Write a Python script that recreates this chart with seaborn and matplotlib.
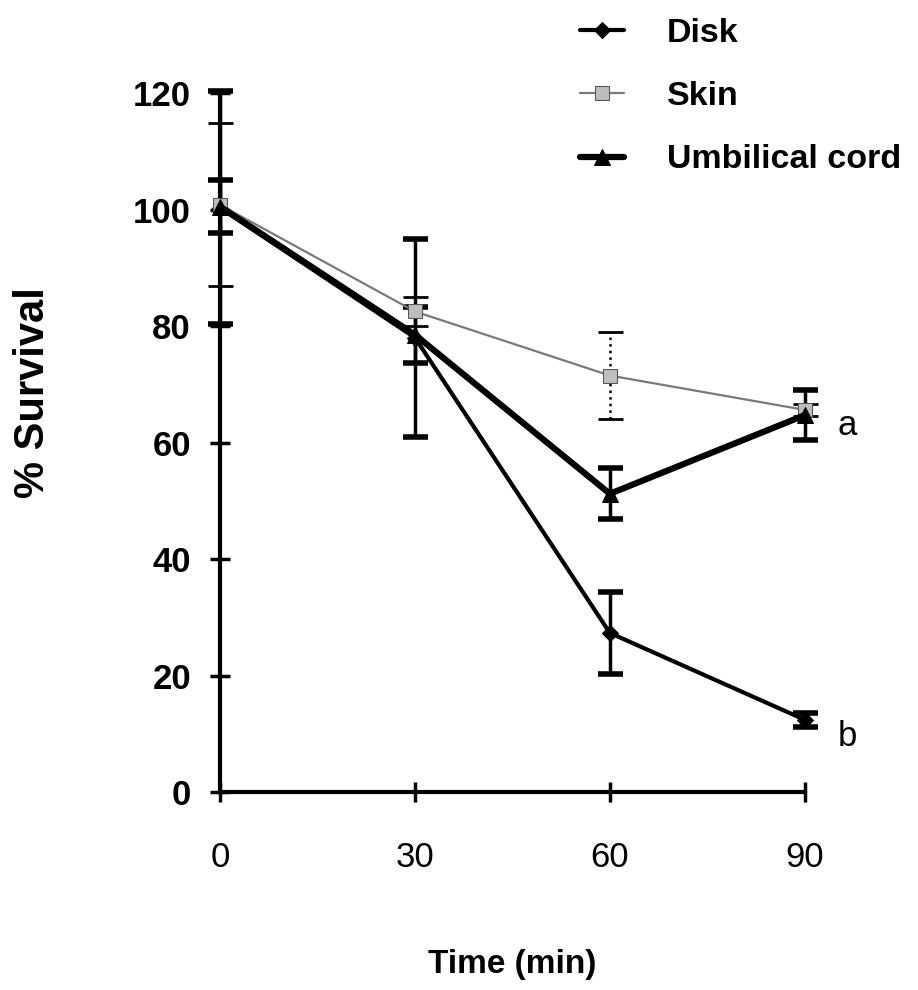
import numpy as np
import pandas as pd
import matplotlib
matplotlib.use("Agg")
import matplotlib.pyplot as plt
import seaborn as sns

# Datos
tiempo = [0, 30, 60, 90]
disk = [100.3, 78.0, 27.3, 12.4]
disk_sd = [20.0, 17.0, 7.0, 1.2]
skin = [100.8, 82.5, 71.5, 65.6]
skin_sd = [14.0, 2.5, 7.5, 1.0]
umbilical = [100.5, 78.5, 51.2, 64.7]
umbilical_sd = [4.6, 4.8, 4.4, 4.3]

series = ["Disk", "Skin", "Umbilical cord"]

df = pd.DataFrame({
    "tiempo": tiempo * 3,
    "valor": disk + skin + umbilical,
    "sd": disk_sd + skin_sd + umbilical_sd,
    "serie": np.repeat(series, len(tiempo)),
})

sns.set_style("ticks")
plt.rcParams["font.family"] = ["Liberation Sans", "DejaVu Sans"]
plt.rcParams["text.color"] = "black"
plt.rcParams["xtick.color"] = "black"
plt.rcParams["ytick.color"] = "black"
plt.rcParams["axes.labelcolor"] = "black"

fig = plt.figure(figsize=(9.18, 9.9), dpi=100)
ax = fig.add_axes([0.2397, 0.2, 0.637, 0.706])

estilos = {
    "Disk": dict(color="black", lw=3.0, marker="D", ms=8, mfc="black", mec="black"),
    "Skin": dict(color="#7a7a7a", lw=1.6, marker="s", ms=10, mfc="#bdbdbd", mec="#555555"),
    "Umbilical cord": dict(color="black", lw=4.5, marker="^", ms=11, mfc="black", mec="black"),
}

# lineas con seaborn, luego se ajusta el estilo de cada una
paleta = {s: estilos[s]["color"] for s in series}
sns.lineplot(data=df, x="tiempo", y="valor", hue="serie", palette=paleta,
             hue_order=series, ax=ax, legend=False, estimator=None)

for linea, s in zip(ax.lines, series):
    e = estilos[s]
    linea.set_linewidth(e["lw"])
    linea.set_marker(e["marker"])
    linea.set_markersize(e["ms"])
    linea.set_markerfacecolor(e["mfc"])
    linea.set_markeredgecolor(e["mec"])
    linea.set_label(s)
    linea.set_clip_on(False)
    linea.set_zorder(4)

for s in series:
    sub = df[df["serie"] == s]
    eb = ax.errorbar(sub["tiempo"], sub["valor"], yerr=sub["sd"], fmt="none",
                     ecolor="black", elinewidth=2.5 if s != "Skin" else 1.8,
                     capsize=9, capthick=4 if s != "Skin" else 2,
                     clip_on=False, zorder=3)
    if s == "Skin":
        eb[2][0].set_linestyle(":")
    for c in eb[1]:
        c.set_clip_on(False)
    eb[2][0].set_clip_on(False)

ax.set_xlim(0, 90)
ax.set_ylim(0, 120)
ax.set_xticks(tiempo)
ax.set_yticks(range(0, 121, 20))
ax.tick_params(axis="both", direction="inout", length=14, width=2.5, color="black")
ax.tick_params(axis="x", labelsize=25, pad=28)
ax.tick_params(axis="y", labelsize=25, pad=14)
for t in ax.get_yticklabels():
    t.set_fontweight("bold")

for lado in ["left", "bottom"]:
    ax.spines[lado].set_linewidth(3)
    ax.spines[lado].set_color("black")
sns.despine(ax=ax)

ax.set_xlabel("Time (min)", fontsize=24, fontweight="bold")
ax.xaxis.set_label_coords(0.5, -0.224)
ax.set_ylabel("% Survival", fontsize=30, fontweight="bold")
ax.yaxis.set_label_coords(-0.285, 0.572)

ax.text(96.5, 63, "a", fontsize=25, ha="center", va="center")
ax.text(96.5, 9.5, "b", fontsize=25, ha="center", va="center")

handles, labels = ax.get_legend_handles_labels()
leg = fig.legend(handles, labels, loc="upper left", bbox_to_anchor=(0.632, 0.982),
                 frameon=False, fontsize=24.5, handlelength=1.3, handletextpad=1.25,
                 labelspacing=0.95, borderpad=0, borderaxespad=0)
for t in leg.get_texts():
    t.set_fontweight("bold")

fig.savefig("out.png", dpi=100)
